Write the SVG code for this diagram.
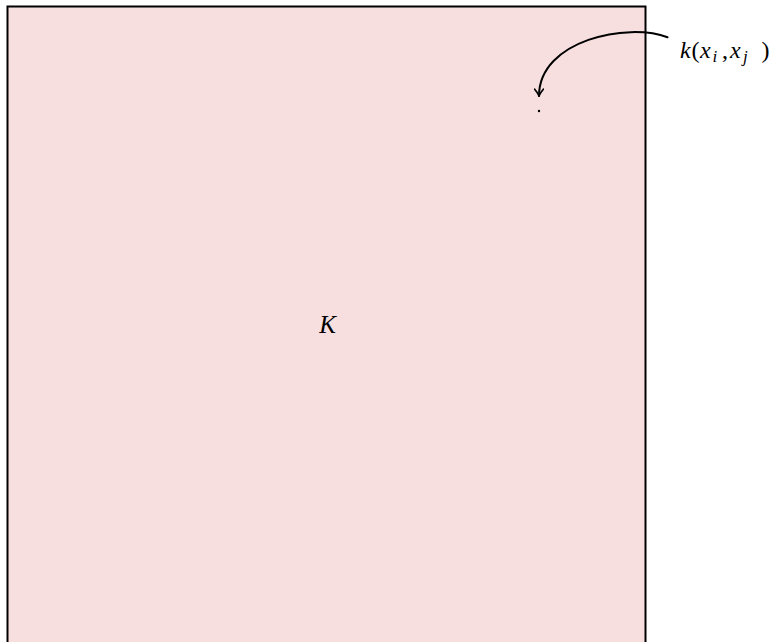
<svg xmlns="http://www.w3.org/2000/svg" width="774" height="642" viewBox="0 0 774 642">
  <style>
    .math { font-family: "Liberation Serif", "Times New Roman", "DejaVu Serif", serif; font-style: italic; fill: #000; }
    .up { font-style: normal; }
    .edge { fill: none; stroke: #000; stroke-width: 2; stroke-linecap: round; }
  </style>
  <defs>
    <marker id="arrow" viewBox="0 0 10 10" refX="9" refY="5" markerWidth="10" markerHeight="10" markerUnits="userSpaceOnUse" orient="auto">
      <path d="M2,0.5 Q6,4 9,5 Q6,6 2,9.5" fill="none" stroke="#000" stroke-width="1.6" stroke-linecap="round"/>
    </marker>
  </defs>
  <g id="matrix">
    <rect x="7.5" y="6.5" width="638" height="700" fill="#f7dfdf" stroke="#000" stroke-width="2"/>
    <text class="math" x="327.5" y="332.7" font-size="25" text-anchor="middle">K</text>
  </g>
  <g id="entry">
    <circle cx="539" cy="111" r="1.2" fill="#000"/>
  </g>
  <g id="label">
    <text class="math" font-size="24" y="57.7"><tspan x="680">k</tspan><tspan class="up" x="691.5">(</tspan><tspan x="700">x</tspan><tspan x="712.5" y="61.7" font-size="17">i</tspan><tspan class="up" x="722" y="57.7">,</tspan><tspan x="730">x</tspan><tspan x="743" y="61.7" font-size="17">j</tspan><tspan class="up" x="761.5" y="57.7">)</tspan></text>
  </g>
  <g id="connectors">
    <path class="edge" d="M667.5,37.3 C628,22 539,40 539,96" marker-end="url(#arrow)"/>
  </g>
</svg>
